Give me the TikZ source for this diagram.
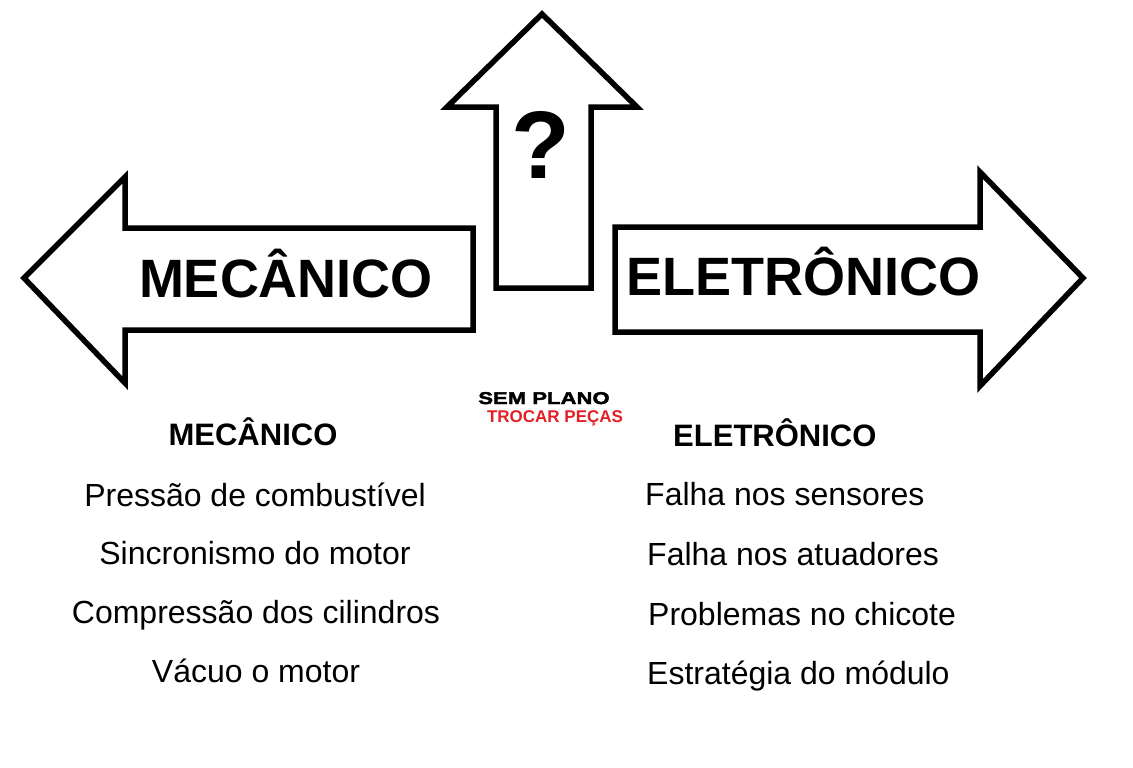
\documentclass[tikz,border=0pt]{standalone}
\usepackage{fontspec}
\setmainfont{Liberation Sans}
\newfontfamily\heavyfont{Liberation Sans Bold}[FakeBold=2.5,FakeStretch=1.3]
\definecolor{trocared}{RGB}{226,32,38}
\begin{document}
\begin{tikzpicture}[x=1pt,y=-1pt,
  arrowshape/.style={draw=black, line width=5.5pt, line join=miter, fill=white},
  bigtext/.style={font=\bfseries\fontsize{54}{54}\selectfont, inner sep=0pt, anchor=base},
  headtext/.style={font=\bfseries\fontsize{31}{31}\selectfont, inner sep=0pt},
  itemtext/.style={font=\fontsize{32}{32}\selectfont, inner sep=0pt},
  midtext/.style={font=\heavyfont\fontsize{17}{17}\selectfont, inner sep=0pt, anchor=base},
  redtext/.style={font=\bfseries\fontsize{17}{17}\selectfont, text=trocared, inner sep=0pt, anchor=base}]
\useasboundingbox (0,0) rectangle (1133,768);
\fill[white] (0,0) rectangle (1133,768);

% arrows
\draw[arrowshape] (24,278) -- (125,177) -- (125,228) -- (473,228) -- (473,330) -- (125,330) -- (125,383) -- cycle;
\draw[arrowshape] (542,14) -- (637,107) -- (591,107) -- (591,288) -- (496,288) -- (496,107) -- (447,107) -- cycle;
\draw[arrowshape] (1083,278) -- (980,386) -- (980,332) -- (615,332) -- (615,227) -- (980,227) -- (980,172) -- cycle;

% arrow labels
\node[bigtext] (mecbig) at (286,297) {MECÂNICO};
\node[bigtext] (elebig) at (803,295) {ELETRÔNICO};
\node[font=\bfseries\fontsize{96}{96}\selectfont, inner sep=0pt, anchor=base] (quest) at (541,178) {?};

% middle
\node[midtext] (semplano) at (544,404) {SEM PLANO};
\node[redtext] (trocar) at (555,422) {TROCAR PEÇAS};

% left column
\node[headtext, anchor=base] (mechead) at (253,445) {MECÂNICO};
\node[itemtext, anchor=base] (m1) at (255,506) {Pressão de combustível};
\node[itemtext, anchor=base] (m2) at (255,564) {Sincronismo do motor};
\node[itemtext, anchor=base] (m3) at (256,623) {Compressão dos cilindros};
\node[itemtext, anchor=base] (m4) at (256,682) {Vácuo o motor};

% right column
\node[headtext, anchor=base west] (elehead) at (673,446) {ELETRÔNICO};
\node[itemtext, anchor=base west] (e1) at (645,505) {Falha nos sensores};
\node[itemtext, anchor=base west] (e2) at (647,565) {Falha nos atuadores};
\node[itemtext, anchor=base west] (e3) at (648,625) {Problemas no chicote};
\node[itemtext, anchor=base west] (e4) at (647,684) {Estratégia do módulo};
\end{tikzpicture}
\end{document}
